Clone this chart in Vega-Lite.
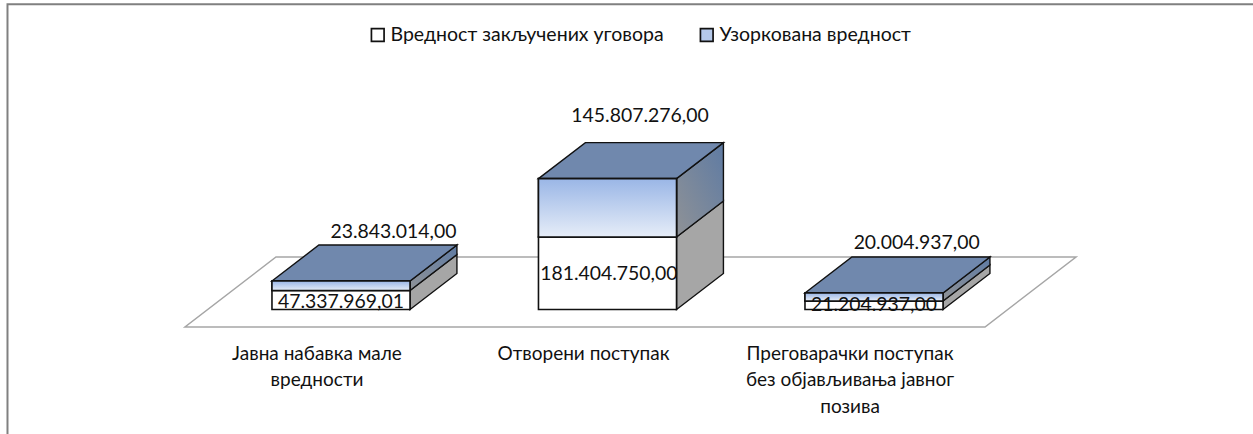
{"$schema":"https://vega.github.io/schema/vega-lite/v6.json","width":1253,"height":434,"autosize":{"type":"none"},"padding":0,"background":"white","view":{"stroke":null},
"datasets":{
"stubovi":[
{"kategorija":"Јавна набавка мале вредности","serija":"Вредност закључених уговора","red":1,"vrednost":47337969.01,"levo":-0.259,"desno":0.259},
{"kategorija":"Јавна набавка мале вредности","serija":"Узоркована вредност","red":2,"vrednost":23843014,"levo":-0.259,"desno":0.259},
{"kategorija":"Отворени поступак","serija":"Вредност закључених уговора","red":1,"vrednost":181404750,"levo":0.741,"desno":1.259},
{"kategorija":"Отворени поступак","serija":"Узоркована вредност","red":2,"vrednost":145807276,"levo":0.741,"desno":1.259},
{"kategorija":"Преговарачки поступак без објављивања јавног позива","serija":"Вредност закључених уговора","red":1,"vrednost":21204937,"levo":1.741,"desno":2.259},
{"kategorija":"Преговарачки поступак без објављивања јавног позива","serija":"Узоркована вредност","red":2,"vrednost":20004937,"levo":1.741,"desno":2.259}],
"strane":[
{"lice":"t0","vrsta":"vrh","x":-0.259,"y":71180983,"y2":71180983},{"lice":"t0","vrsta":"vrh","x":-0.083,"y":71180983,"y2":161180983},{"lice":"t0","vrsta":"vrh","x":0.259,"y":71180983,"y2":161180983},{"lice":"t0","vrsta":"vrh","x":0.435,"y":161180983,"y2":161180983},
{"lice":"t1","vrsta":"vrh","x":0.741,"y":327212026,"y2":327212026},{"lice":"t1","vrsta":"vrh","x":0.917,"y":327212026,"y2":417212026},{"lice":"t1","vrsta":"vrh","x":1.259,"y":327212026,"y2":417212026},{"lice":"t1","vrsta":"vrh","x":1.435,"y":417212026,"y2":417212026},
{"lice":"t2","vrsta":"vrh","x":1.741,"y":41209874,"y2":41209874},{"lice":"t2","vrsta":"vrh","x":1.917,"y":41209874,"y2":131209874},{"lice":"t2","vrsta":"vrh","x":2.259,"y":41209874,"y2":131209874},{"lice":"t2","vrsta":"vrh","x":2.435,"y":131209874,"y2":131209874},
{"lice":"b0","vrsta":"plava","x":0.259,"y":47337969,"y2":71180983},{"lice":"b0","vrsta":"plava","x":0.435,"y":137337969,"y2":161180983},
{"lice":"b1","vrsta":"plava","x":1.259,"y":181404750,"y2":327212026},{"lice":"b1","vrsta":"plava","x":1.435,"y":271404750,"y2":417212026},
{"lice":"b2","vrsta":"plava","x":2.259,"y":21204937,"y2":41209874},{"lice":"b2","vrsta":"plava","x":2.435,"y":111204937,"y2":131209874},
{"lice":"s0","vrsta":"siva","x":0.259,"y":0,"y2":47337969},{"lice":"s0","vrsta":"siva","x":0.435,"y":90000000,"y2":137337969},
{"lice":"s1","vrsta":"siva","x":1.259,"y":0,"y2":181404750},{"lice":"s1","vrsta":"siva","x":1.435,"y":90000000,"y2":271404750},
{"lice":"s2","vrsta":"siva","x":2.259,"y":0,"y2":21204937},{"lice":"s2","vrsta":"siva","x":2.435,"y":90000000,"y2":111204937}],
"pod":[{"x":-0.5854,"y":-43750000,"y2":-43750000},{"x":-0.2439,"y":-43750000,"y2":131250000},{"x":2.4165,"y":-43750000,"y2":131250000},{"x":2.758,"y":131250000,"y2":131250000}],
"okvir":[{"r":1,"x":-1.2514,"y":-311250000},{"r":2,"x":-1.2514,"y":763000000},{"r":3,"x":3.4221,"y":763000000}],
"oznake":[
{"t":"23.843.014,00","x":0.197,"y":193500000},{"t":"47.337.969,01","x":0,"y":18500000},
{"t":"145.807.276,00","x":1.122,"y":483500000},{"t":"181.404.750,00","x":1.005,"y":88500000},
{"t":"20.004.937,00","x":2.16,"y":166500000},{"t":"21.204.937,00","x":2,"y":11500000}],
"kategorije":[
{"t":"Јавна набавка мале|вредности","x":-0.09,"y":-110000000},
{"t":"Отворени поступак","x":0.91,"y":-110000000},
{"t":"Преговарачки поступак|без објављивања јавног|позива","x":1.91,"y":-110000000}]},
"encoding":{"x":{"field":"x","type":"quantitative","scale":{"domain":[-1.2795,3.4221],"nice":false,"zero":false},"axis":null},"y":{"field":"y","type":"quantitative","scale":{"domain":[-311250000,773750000],"nice":false,"zero":false},"axis":null}},
"layer":[
{"data":{"name":"okvir"},"mark":{"type":"line","stroke":"#808080","strokeWidth":2,"clip":false},"encoding":{"order":{"field":"r"}}},
{"data":{"name":"pod"},"mark":{"type":"area","orient":"vertical","fill":"white","stroke":"#a6a6a6","strokeWidth":1.5},"encoding":{"y2":{"field":"y2"}}},
{"data":{"name":"strane"},"transform":[{"filter":"datum.vrsta==='siva'"}],"mark":{"type":"area","orient":"vertical","fill":"#a6a6a6","stroke":"#111111","strokeWidth":1.4},"encoding":{"y2":{"field":"y2"},"detail":{"field":"lice"}}},
{"data":{"name":"strane"},"transform":[{"filter":"datum.vrsta==='plava'"}],"mark":{"type":"area","orient":"vertical","fill":{"gradient":"linear","x1":1,"y1":0,"x2":0,"y2":1,"stops":[{"offset":0,"color":"#5f7ba3"},{"offset":1,"color":"#8f9296"}]},"stroke":"#111111","strokeWidth":1.4},"encoding":{"y2":{"field":"y2"},"detail":{"field":"lice"}}},
{"data":{"name":"strane"},"transform":[{"filter":"datum.vrsta==='vrh'"}],"mark":{"type":"area","orient":"vertical","fill":"#7088ad","stroke":"#111111","strokeWidth":1.4},"encoding":{"y2":{"field":"y2"},"detail":{"field":"lice"}}},
{"data":{"name":"stubovi"},"transform":[{"stack":"vrednost","groupby":["kategorija"],"sort":[{"field":"red","order":"ascending"}],"as":["y0","y1"]}],"mark":{"type":"rect","stroke":"#111111","strokeWidth":1.6},"encoding":{"x":{"field":"levo","type":"quantitative"},"x2":{"field":"desno"},"y":{"field":"y0","type":"quantitative"},"y2":{"field":"y1"},"fill":{"field":"serija","type":"nominal","scale":{"domain":["Вредност закључених уговора","Узоркована вредност"],"range":["#ffffff","#b5c9ea"]},"legend":{"title":null,"orient":"none","legendX":368,"legendY":25,"direction":"horizontal","symbolType":"square","symbolSize":160,"symbolStrokeColor":"#111111","symbolStrokeWidth":1.7,"labelFont":"Lato","labelFontSize":19.5,"labelColor":"#111111","labelOffset":3,"columnPadding":33,"labelLimit":340}}}},
{"data":{"name":"stubovi"},"transform":[{"stack":"vrednost","groupby":["kategorija"],"sort":[{"field":"red","order":"ascending"}],"as":["y0","y1"]},{"filter":"datum.red===2"}],"mark":{"type":"rect","stroke":"#111111","strokeWidth":1.6,"fill":{"gradient":"linear","x1":0,"y1":0,"x2":0,"y2":1,"stops":[{"offset":0,"color":"#9ab6e6"},{"offset":1,"color":"#e6edf8"}]}},"encoding":{"x":{"field":"levo","type":"quantitative"},"x2":{"field":"desno"},"y":{"field":"y0","type":"quantitative"},"y2":{"field":"y1"}}},
{"data":{"name":"oznake"},"mark":{"type":"text","font":"Lato","fontSize":19.4,"color":"#111111","align":"center","baseline":"middle"},"encoding":{"text":{"field":"t"}}},
{"data":{"name":"kategorije"},"mark":{"type":"text","font":"Lato","fontSize":19,"color":"#111111","align":"center","baseline":"middle","lineBreak":"|","lineHeight":26.5},"encoding":{"text":{"field":"t"}}}
]}
